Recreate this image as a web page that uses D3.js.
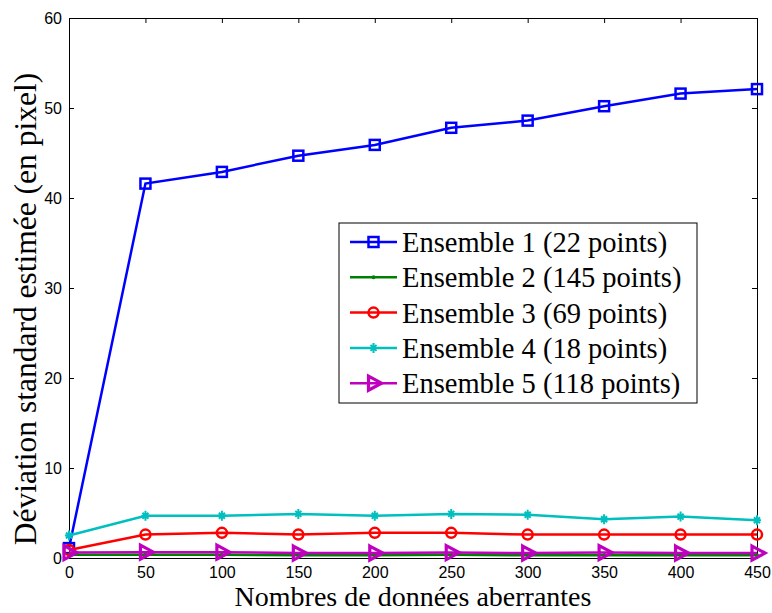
<!DOCTYPE html>
<html>
<head>
<meta charset="utf-8">
<script src="https://cdn.jsdelivr.net/npm/d3@7"></script>
<style>
  body { margin: 0; background: #fff; }
  .tick text { font-family: "Liberation Sans", Arial, sans-serif; font-size: 16px; }
</style>
</head>
<body>
<div class="chart"></div>
<script>
var xValues = [0, 50, 100, 150, 200, 250, 300, 350, 400, 450];
var xTicks = [0, 50, 100, 150, 200, 250, 300, 350, 400, 450];
var yTicks = [0, 10, 20, 30, 40, 50, 60];

var ensemble1 = [1.1, 41.6, 42.9, 44.7, 45.9, 47.8, 48.6, 50.2, 51.6, 52.1];
var ensemble2 = [0.35, 0.35, 0.35, 0.3, 0.3, 0.35, 0.3, 0.3, 0.3, 0.3];
var ensemble3 = [0.9, 2.6, 2.8, 2.6, 2.8, 2.8, 2.6, 2.6, 2.6, 2.6];
var ensemble4 = [2.5, 4.7, 4.7, 4.9, 4.7, 4.9, 4.8, 4.3, 4.6, 4.2];
var ensemble5 = [0.6, 0.65, 0.65, 0.55, 0.55, 0.6, 0.55, 0.6, 0.55, 0.55];

var names = ["Ensemble 1 (22 points)", "Ensemble 2 (145 points)", "Ensemble 3 (69 points)",
             "Ensemble 4 (18 points)", "Ensemble 5 (118 points)"];
var colors = ["#0000ff", "#008000", "#ff0000", "#00bfbf", "#bf00bf"];
var markers = ["square", "dot", "circle", "star", "triangle"];

var series = [ensemble1, ensemble2, ensemble3, ensemble4, ensemble5].map(function (vals, i) {
  return { name: names[i], color: colors[i], marker: markers[i],
           points: vals.map(function (v, j) { return { x: xValues[j], y: v }; }) };
});

var margin = { top: 18, right: 15, bottom: 55, left: 69 };
var width = 772 - margin.left - margin.right;
var height = 613 - margin.top - margin.bottom;

var svg = d3.select(".chart")
  .append("svg")
  .attr("width", 772)
  .attr("height", 613)
  .append("g")
  .attr("transform", "translate(" + margin.left + "," + margin.top + ")");

var xScale = d3.scaleLinear().domain([0, 450]).range([0, width]);
var yScale = d3.scaleLinear().domain([0, 60]).range([height, 0]);

// axes, ticks inward, box all round
svg.append("g")
  .attr("transform", "translate(0," + height + ")")
  .call(d3.axisBottom(xScale).tickValues(xTicks).tickSizeInner(-5).tickSizeOuter(0).tickPadding(9));
svg.append("g")
  .call(d3.axisLeft(yScale).tickValues(yTicks).tickSizeInner(-5).tickSizeOuter(0).tickPadding(7));
svg.append("g")
  .call(d3.axisTop(xScale).tickValues(xTicks).tickSizeInner(-5).tickSizeOuter(0).tickFormat(""));
svg.append("g")
  .attr("transform", "translate(" + width + ",0)")
  .call(d3.axisRight(yScale).tickValues(yTicks).tickSizeInner(-5).tickSizeOuter(0).tickFormat(""));
svg.selectAll(".domain, .tick line").attr("stroke", "#000");

function drawMarker(sel, type, color) {
  if (type === "square") {
    sel.append("rect").attr("x", -5).attr("y", -5).attr("width", 10).attr("height", 10)
      .attr("fill", "none").attr("stroke", color).attr("stroke-width", 2.5);
  } else if (type === "circle") {
    sel.append("circle").attr("r", 5).attr("fill", "none").attr("stroke", color).attr("stroke-width", 2.5);
  } else if (type === "dot") {
    sel.append("circle").attr("r", 2).attr("fill", color);
  } else if (type === "star") {
    sel.append("path").attr("d", "M-4,0L4,0M0,-5L0,5M-3,-3L3,3M-3,3L3,-3")
      .attr("stroke", color).attr("stroke-width", 2);
  } else if (type === "triangle") {
    // hollow marker with a heavy outline, as MATLAB draws '>'
    sel.append("path").attr("d", "M-5,-7L8,0L-5,7Z")
      .attr("fill", "none").attr("stroke", color).attr("stroke-width", 3.2);
  }
}

var line = d3.line().x(d => xScale(d.x)).y(d => yScale(d.y));

series.forEach(function (s) {
  svg.append("path")
    .datum(s.points)
    .attr("d", line)
    .attr("fill", "none")
    .attr("stroke", s.color)
    .attr("stroke-width", 2.5);
  svg.selectAll(null)
    .data(s.points)
    .enter()
    .append("g")
    .attr("transform", d => "translate(" + xScale(d.x) + "," + yScale(d.y) + ")")
    .each(function () { drawMarker(d3.select(this), s.marker, s.color); });
});

// legend
var legend = svg.append("g").attr("transform", "translate(" + (339 - margin.left) + "," + (223 - margin.top) + ")");
legend.append("rect")
  .attr("width", 358).attr("height", 180)
  .attr("fill", "#fff").attr("stroke", "#000").attr("stroke-width", 1);
series.forEach(function (s, i) {
  var row = legend.append("g").attr("transform", "translate(0," + (19 + i * 35.3) + ")");
  row.append("line").attr("x1", 11).attr("x2", 58).attr("y1", 0).attr("y2", 0)
    .attr("stroke", s.color).attr("stroke-width", 2.5);
  drawMarker(row.append("g").attr("transform", "translate(34.5,0)"), s.marker, s.color);
  row.append("text")
    .attr("x", 63).attr("y", 0).attr("dy", "0.35em")
    .style("font-family", "'Liberation Serif', 'Times New Roman', serif")
    .style("font-size", "28.5px")
    .text(s.name);
});

// axis labels
svg.append("text")
  .attr("x", width / 2).attr("y", height + 48)
  .attr("text-anchor", "middle")
  .style("font-family", "'Liberation Serif', 'Times New Roman', serif")
  .style("font-size", "28px")
  .text("Nombres de données aberrantes");

svg.append("text")
  .attr("transform", "translate(-33," + (height / 2 + 21) + ") rotate(-90)")
  .attr("text-anchor", "middle")
  .style("font-family", "'Liberation Serif', 'Times New Roman', serif")
  .style("font-size", "31.5px")
  .text("Déviation standard estimée (en pixel)");
</script>
</body>
</html>
